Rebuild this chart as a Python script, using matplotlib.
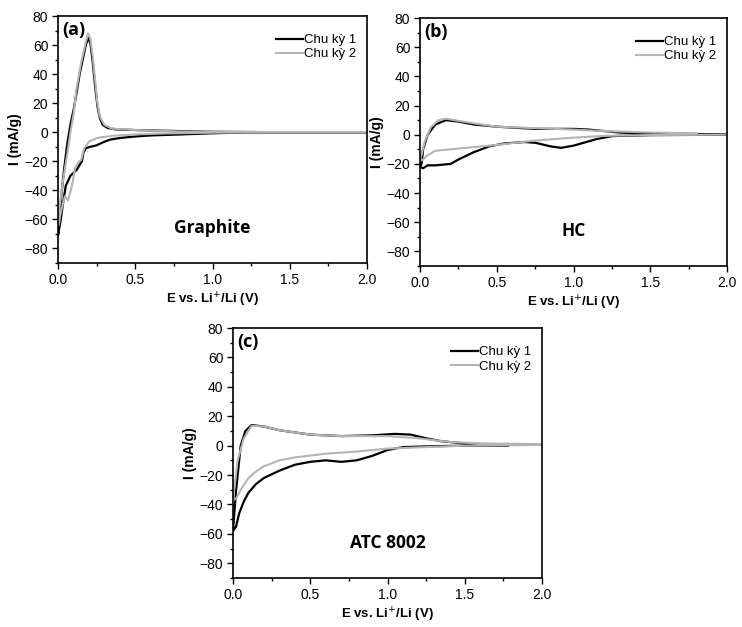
import matplotlib
matplotlib.use('Agg')
import matplotlib.pyplot as plt
from matplotlib.ticker import MultipleLocator, FormatStrFormatter

# ---- Du lieu doc tu hinh (E in V, I in mA/g) ----
# (a) Graphite
E_a1 = [2.0, 1.5, 1.2, 1.0, 0.8, 0.6, 0.49, 0.4, 0.34, 0.29, 0.25, 0.21, 0.18, 0.165, 0.155, 0.14,
        0.12, 0.1, 0.08, 0.05, 0.03, 0.015, 0.005, 0.0,
        0.01, 0.02, 0.04, 0.06, 0.08, 0.1, 0.12, 0.14, 0.16, 0.18, 0.195, 0.21, 0.225, 0.24, 0.255,
        0.27, 0.29, 0.32, 0.37, 0.5, 0.7, 1.0, 1.5, 2.0]
I_a1 = [0, 0, -0.2, -0.7, -1.5, -2.2, -3, -4, -5, -7, -9, -10, -11, -14, -20, -22.5,
        -26, -28, -30, -37, -51, -62, -68, -71,
        -60, -45, -25, -8, 5, 15, 27, 40, 50, 60, 65, 61, 48, 32, 18,
        10, 5, 3, 2, 1.5, 1, 0.3, 0, 0]
E_a2 = [2.0, 1.5, 1.0, 0.7, 0.5, 0.35, 0.28, 0.25, 0.2, 0.17, 0.15, 0.13, 0.11, 0.09, 0.065,
        0.045, 0.03, 0.015, 0.005, 0.0,
        0.01, 0.03, 0.06, 0.08, 0.1, 0.12, 0.15, 0.18, 0.195, 0.21, 0.225, 0.24, 0.255, 0.27, 0.3,
        0.35, 0.5, 0.8, 1.0, 1.5, 2.0]
I_a2 = [0, 0, -0.3, -0.8, -1.5, -2.5, -3.5, -4, -6.5, -11, -19, -21, -25, -37, -47,
        -44, -50, -57, -64, -62,
        -52, -35, -15, 0, 12, 30, 48, 62, 68, 64, 52, 36, 20, 11, 5,
        2.5, 1.5, 0.5, 0.3, 0, 0]

# (b) HC
E_b1 = [2.0, 1.5, 1.3, 1.25, 1.15, 1.05, 1.0, 0.92, 0.85, 0.75, 0.68, 0.55, 0.45, 0.35, 0.25,
        0.2, 0.15, 0.1, 0.05, 0.02, 0.0,
        0.01, 0.02, 0.05, 0.1, 0.17, 0.25, 0.35, 0.5, 0.75, 1.0, 1.1, 1.2, 1.3, 1.5, 2.0]
I_b1 = [0, -0.3, -0.8, -1, -3, -6, -7.5, -9, -8, -5.5, -5, -6, -8, -12, -17,
        -20, -20.5, -21, -21, -23, -22,
        -20, -10, 0, 7, 10, 9, 7, 5.5, 4, 4, 3.5, 2.5, 1.5, 0.5, 0]
E_b2 = [2.0, 1.5, 1.2, 1.0, 0.75, 0.5, 0.3, 0.2, 0.1, 0.05, 0.02, 0.0,
        0.03, 0.07, 0.12, 0.17, 0.25, 0.4, 0.5, 0.75, 1.0, 1.2, 1.5, 1.8]
I_b2 = [0, -0.2, -0.8, -2, -4, -7, -9, -10, -11, -14, -17, -18,
        -5, 5, 10, 11, 9.5, 7, 5.5, 4.5, 3.5, 2.5, 1.5, 1]

# (c) ATC 8002
E_c1 = [1.78, 1.5, 1.25, 1.1, 1.0, 0.9, 0.8, 0.7, 0.6, 0.5, 0.4, 0.3, 0.2, 0.15, 0.1, 0.07,
        0.04, 0.02, 0.0,
        0.02, 0.05, 0.08, 0.12, 0.2, 0.3, 0.4, 0.5, 0.7, 0.9, 1.05, 1.15, 1.25, 1.35, 1.5, 1.75]
I_c1 = [0, 0, -0.5, -1, -3, -7, -10, -11, -10, -11, -13, -17, -22, -26, -32, -38,
        -46, -55, -58,
        -30, 0, 10, 14, 13, 10.5, 9, 7.5, 6.5, 7, 8, 7.5, 5, 3, 1.5, 0.5]
E_c2 = [2.0, 1.5, 1.0, 0.8, 0.6, 0.4, 0.3, 0.2, 0.15, 0.1, 0.05, 0.02, 0.0,
        0.03, 0.07, 0.12, 0.2, 0.3, 0.5, 0.7, 1.0, 1.2, 1.4, 1.6, 2.0]
I_c2 = [0.5, 0, -2, -4, -5.5, -8, -10, -14, -17.5, -22, -30, -36, -37,
        -10, 5, 13.5, 13, 10.5, 7.5, 6.5, 6.5, 5, 2.5, 1.5, 1]

panels = [
    ('(a)', 'Graphite', E_a1, I_a1, E_a2, I_a2, [58, 16, 309, 247]),
    ('(b)', 'HC', E_b1, I_b1, E_b2, I_b2, [420, 18, 307, 248]),
    ('(c)', 'ATC 8002', E_c1, I_c1, E_c2, I_c2, [233, 328, 309, 250]),
]

W, H = 742, 627
fig = plt.figure(figsize=(W / 100, H / 100), dpi=100)
grey = '#b4b4b4'

for tag, name, e1, i1, e2, i2, (px, py, pw, ph) in panels:
    ax = fig.add_axes([px / W, 1 - (py + ph) / H, pw / W, ph / H])
    ax.plot(e1, i1, color='black', lw=1.6, label='Chu kỳ 1')
    ax.plot(e2, i2, color=grey, lw=1.5, label='Chu kỳ 2')
    ax.set_xlim(0, 2.0)
    ax.set_ylim(-90, 80)
    ax.xaxis.set_major_locator(MultipleLocator(0.5))
    ax.xaxis.set_minor_locator(MultipleLocator(0.25))
    ax.yaxis.set_major_locator(MultipleLocator(20))
    ax.yaxis.set_minor_locator(MultipleLocator(10))
    ax.xaxis.set_major_formatter(FormatStrFormatter('%.1f'))
    ax.tick_params(which='major', direction='out', length=4, width=1, labelsize=10, pad=3)
    ax.tick_params(which='minor', direction='out', length=2, width=1)
    for lab in ax.get_xticklabels() + ax.get_yticklabels():
        lab.set_fontfamily('Liberation Sans')
    for s in ax.spines.values():
        s.set_linewidth(1.2)
    ax.set_xlabel('E vs. Li$^{+}$/Li (V)', fontsize=9.5, fontweight='bold',
                  family='Liberation Sans', labelpad=3)
    ax.set_ylabel('I (mA/g)', fontsize=10, fontweight='bold', family='Liberation Sans', labelpad=2)
    ax.text(0.015, 0.945, tag, transform=ax.transAxes, fontsize=13, fontweight='bold',
            family='Open Sans', ha='left', va='center')
    ax.text(0.5, 0.14, name, transform=ax.transAxes, fontsize=12.5, fontweight='bold',
            family='Open Sans', ha='center', va='center')
    ax.legend(loc='upper right', frameon=False, prop={'family': 'Liberation Sans', 'size': 9.5},
              handlelength=2.0, handletextpad=0.1, labelspacing=0.15,
              borderaxespad=0.4, bbox_to_anchor=(1.0, 0.97))

fig.savefig('out.png', dpi=100)
